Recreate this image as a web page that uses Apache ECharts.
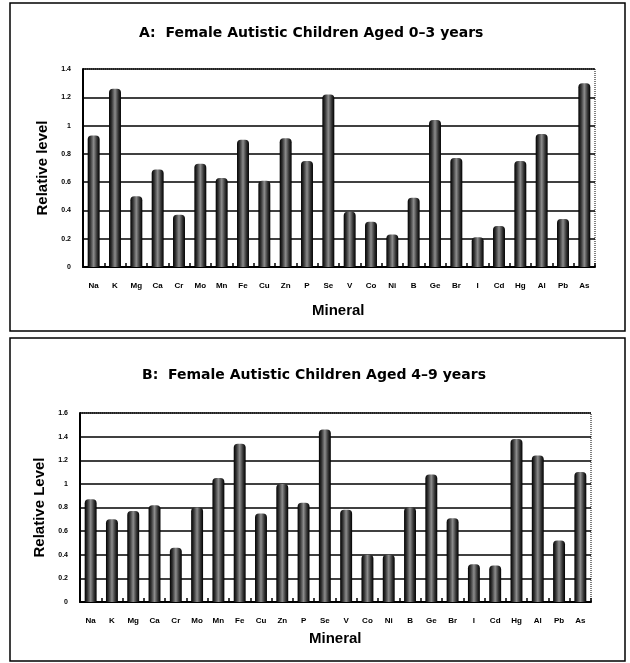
<!DOCTYPE html>
<html><head><meta charset="utf-8">
<script src="https://cdn.jsdelivr.net/npm/echarts@6/dist/echarts.min.js"></script>
<style>html,body{margin:0;padding:0;background:#fff}#c{width:630px;height:663px}</style>
</head><body><div id="c"></div>
<script>
const minerals = ['Na','K','Mg','Ca','Cr','Mo','Mn','Fe','Cu','Zn','P','Se','V','Co','Ni','B','Ge','Br','I','Cd','Hg','Al','Pb','As'];
const levelsA = [0.93,1.26,0.50,0.69,0.37,0.73,0.63,0.90,0.61,0.91,0.75,1.22,0.39,0.32,0.23,0.49,1.04,0.77,0.21,0.29,0.75,0.94,0.34,1.30];
const levelsB = [0.87,0.70,0.77,0.82,0.46,0.80,1.05,1.34,0.75,1.00,0.84,1.46,0.78,0.40,0.40,0.80,1.08,0.71,0.32,0.31,1.38,1.24,0.52,1.10];
const titleA = 'A:  Female Autistic Children Aged 0\u20133 years';
const titleB = 'B:  Female Autistic Children Aged 4\u20139 years';
const yNameA = 'Relative level';
const yNameB = 'Relative Level';
const xName = 'Mineral';

const FONT = 'Liberation Sans, Arial, sans-serif';
const TFONT = 'DejaVu Sans, sans-serif';
const barColor = new echarts.graphic.LinearGradient(0,0,1,0,[
  {offset:0,color:'#000'},{offset:0.22,color:'#333'},{offset:0.5,color:'#8c8c8c'},{offset:0.78,color:'#333'},{offset:1,color:'#000'}]);

function xAxis(i){return {
  type:'category', gridIndex:i, data:minerals,
  axisLine:{lineStyle:{color:'#000',width:2}},
  axisTick:{show:true,inside:true,length:4,lineStyle:{color:'#000',width:1.5}},
  axisLabel:{color:'#000',fontWeight:'bold',fontSize:8,fontFamily:FONT,margin:15,interval:0}
};}
function yAxis(i,max,name){return {
  type:'value', gridIndex:i, min:0, max:max, interval:0.2,
  name:name, nameLocation:'middle', nameGap:26, nameRotate:90,
  nameTextStyle:{color:'#000',fontWeight:'bold',fontSize:15,fontFamily:FONT},
  axisLine:{show:true,lineStyle:{color:'#000',width:2}},
  axisTick:{show:false},
  axisLabel:{color:'#000',fontWeight:'bold',fontSize:7,fontFamily:FONT,margin:12,
    formatter:v=>Number(v.toFixed(1)).toString()},
  splitLine:{show:true,lineStyle:{color:'#000',width:1.5}}
};}

const chart = echarts.init(document.getElementById('c'));
chart.setOption({
  animation:false,
  backgroundColor:'#fff',
  title:[
    {text:titleA,top:21,left:134,textStyle:{fontSize:14,fontWeight:'bold',fontFamily:TFONT,color:'#000'}},
    {text:titleB,top:363,left:137,textStyle:{fontSize:14,fontWeight:'bold',fontFamily:TFONT,color:'#000'}}
  ],
  graphic:[
    {type:'rect',shape:{x:10,y:3,width:615,height:328},style:{fill:'none',stroke:'#000',lineWidth:1.5}},
    {type:'rect',shape:{x:10,y:338,width:615,height:323},style:{fill:'none',stroke:'#000',lineWidth:1.5}},
    {type:'text',left:312,top:303,style:{text:xName,fontSize:15,fontWeight:'bold',fontFamily:FONT,fill:'#000'}},
    {type:'text',left:309,top:631,style:{text:xName,fontSize:15,fontWeight:'bold',fontFamily:FONT,fill:'#000'}}
  ],
  grid:[
    {left:83,top:69,width:512,height:198,show:true,borderColor:'#000',borderWidth:1,borderType:'dotted'},
    {left:80,top:413,width:511,height:189,show:true,borderColor:'#000',borderWidth:1,borderType:'dotted'}
  ],
  xAxis:[xAxis(0),xAxis(1)],
  yAxis:[yAxis(0,1.4,yNameA),yAxis(1,1.6,yNameB)],
  series:[
    {type:'bar',xAxisIndex:0,yAxisIndex:0,data:levelsA,barWidth:'56%',
     itemStyle:{color:barColor,borderRadius:[4,4,0,0]}},
    {type:'bar',xAxisIndex:1,yAxisIndex:1,data:levelsB,barWidth:'56%',
     itemStyle:{color:barColor,borderRadius:[4,4,0,0]}}
  ]
});
</script></body></html>
